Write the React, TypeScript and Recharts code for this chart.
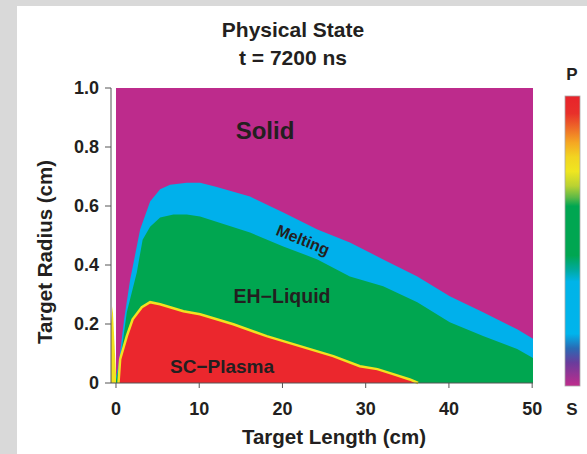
import { ComposedChart, Area, XAxis, YAxis } from "recharts";

// phase boundaries (x = target length cm, y = radius cm)
const solidX = [0, 50.1];
const solidTop = [1, 1];

const meltX = [0, 0.3, 1.0, 1.7, 2.9, 4.1, 5.3, 6.5, 8.5, 10.1, 12, 16.1, 20.1, 24.2, 28.1, 32.1, 36.2, 40.1, 44.1, 48.2, 50.1];
const meltTop = [0.02, 0.06, 0.22, 0.35, 0.52, 0.615, 0.657, 0.672, 0.679, 0.679, 0.665, 0.632, 0.578, 0.52, 0.476, 0.419, 0.361, 0.294, 0.24, 0.182, 0.15];

const liquidX = [0, 0.5, 1.3, 2.5, 3.2, 4.1, 5.3, 6.9, 8.5, 10.1, 16.1, 20.1, 24.2, 28.1, 32.1, 36.2, 40.1, 44.1, 48.2, 50.1];
const liquidTop = [0.01, 0.074, 0.24, 0.375, 0.486, 0.53, 0.561, 0.571, 0.571, 0.564, 0.51, 0.463, 0.419, 0.361, 0.328, 0.274, 0.206, 0.159, 0.115, 0.085];

const plasmaX = [0.3, 0.5, 1.3, 2.0, 3.1, 4.1, 5.3, 8.1, 10.1, 14.1, 18.1, 22.1, 26.1, 29.3, 31.4, 33.3, 35.3, 36.3];
const plasmaTop = [0, 0.081, 0.159, 0.216, 0.257, 0.274, 0.267, 0.243, 0.233, 0.199, 0.159, 0.125, 0.091, 0.057, 0.047, 0.03, 0.012, 0];

const edgeX = [-0.6, -0.4, 0];
const edgeTop = [0.2, 0.26, 0.03];

const xTicks = [0, 10, 20, 30, 40, 50];
const yTicks = [0, 0.2, 0.4, 0.6, 0.8, 1.0];

const toRows = (xs: number[], ys: number[]) => xs.map((x, i) => ({ x, y: ys[i] }));

const FONT = '"Liberation Sans", Arial, sans-serif';
const INK = "#231f20";
const C = {
  solid: "#bd2b8c",
  melt: "#00b0eb",
  liquid: "#00a650",
  plasma: "#eb272d",
  edge: "#f2e21f",
  axis: "#555",
};

const tickStyle = { fontSize: 18, fontWeight: 700, fill: INK, fontFamily: FONT };

export default function App() {
  const area = (xs: number[], ys: number[], fill: string, extra = {}) => (
    <Area
      data={toRows(xs, ys)}
      dataKey="y"
      type="linear"
      stroke="none"
      fill={fill}
      fillOpacity={1}
      dot={false}
      activeDot={false}
      isAnimationActive={false}
      {...extra}
    />
  );

  return (
    <div
      style={{
        position: "absolute",
        left: 0,
        top: 0,
        width: 587,
        height: 454,
        background: "#d9d9d9",
        overflow: "hidden",
      }}
    >
      <div
        style={{ position: "absolute", left: 17, top: 6, right: 0, bottom: 0, background: "#fff" }}
      />
      <div style={{ position: "absolute", left: 0, top: 0 }}>
        <ComposedChart width={587} height={454} margin={{ top: 88, right: 54, bottom: 0, left: 0 }}>
          <XAxis
            type="number"
            dataKey="x"
            domain={[-0.6, 50.1]}
            ticks={xTicks}
            allowDataOverflow
            height={71}
            tick={tickStyle}
            tickSize={5}
            tickMargin={14}
            stroke={C.axis}
          />
          <YAxis
            type="number"
            domain={[0, 1]}
            ticks={yTicks}
            width={111}
            tick={tickStyle}
            tickSize={6}
            tickMargin={6}
            stroke={C.axis}
            tickFormatter={(v: number) => (v === 0 ? "0" : v.toFixed(1))}
          />
          {area(solidX, solidTop, C.solid)}
          {area(meltX, meltTop, C.melt)}
          {area(liquidX, liquidTop, C.liquid)}
          {area(plasmaX, plasmaTop, C.plasma, { stroke: C.edge, strokeWidth: 2.5 })}
          {area(edgeX, edgeTop, C.edge)}
        </ComposedChart>
      </div>
      <svg
        width={587}
        height={454}
        style={{ position: "absolute", left: 0, top: 0, pointerEvents: "none" }}
        fontFamily={FONT}
        fontWeight={700}
        fill={INK}
      >
        <defs>
          <linearGradient id="bar" x1="0" y1="0" x2="0" y2="1">
            <stop offset="0" stopColor="#e8232b" />
            <stop offset="0.06" stopColor="#e8302a" />
            <stop offset="0.11" stopColor="#ee6a28" />
            <stop offset="0.16" stopColor="#f5a623" />
            <stop offset="0.21" stopColor="#f2d421" />
            <stop offset="0.26" stopColor="#efe620" />
            <stop offset="0.31" stopColor="#b9d232" />
            <stop offset="0.35" stopColor="#5cb947" />
            <stop offset="0.38" stopColor="#00a651" />
            <stop offset="0.55" stopColor="#00a651" />
            <stop offset="0.6" stopColor="#00aaa0" />
            <stop offset="0.64" stopColor="#00b4e8" />
            <stop offset="0.82" stopColor="#00b4ec" />
            <stop offset="0.87" stopColor="#2a6ab4" />
            <stop offset="0.92" stopColor="#6a3c9c" />
            <stop offset="1" stopColor="#c02c8c" />
          </linearGradient>
        </defs>
        <text x={293} y={37} textAnchor="middle" fontSize={21}>Physical State</text>
        <text x={293} y={65} textAnchor="middle" fontSize={21}>t = 7200 ns</text>
        <rect x={565} y={96} width={15} height={290} fill="url(#bar)" stroke="#aaa" strokeWidth={0.8} />
        <text x={572} y={80} textAnchor="middle" fontSize={17}>P</text>
        <text x={572} y={415} textAnchor="middle" fontSize={17}>S</text>
        <text x={334} y={444} textAnchor="middle" fontSize={20.5}>Target Length (cm)</text>
        <text
          x={44}
          y={252}
          textAnchor="middle"
          dominantBaseline="central"
          fontSize={20.5}
          transform="rotate(-90 44 252)"
        >
          Target Radius (cm)
        </text>
        <text x={265} y={139} textAnchor="middle" fontSize={24}>Solid</text>
        <text
          x={303}
          y={240}
          textAnchor="middle"
          dominantBaseline="central"
          fontSize={16}
          transform="rotate(22 303 240)"
        >
          Melting
        </text>
        <text x={282} y={303} textAnchor="middle" fontSize={19.5}>EH−Liquid</text>
        <text x={222} y={373} textAnchor="middle" fontSize={19}>SC−Plasma</text>
      </svg>
    </div>
  );
}
